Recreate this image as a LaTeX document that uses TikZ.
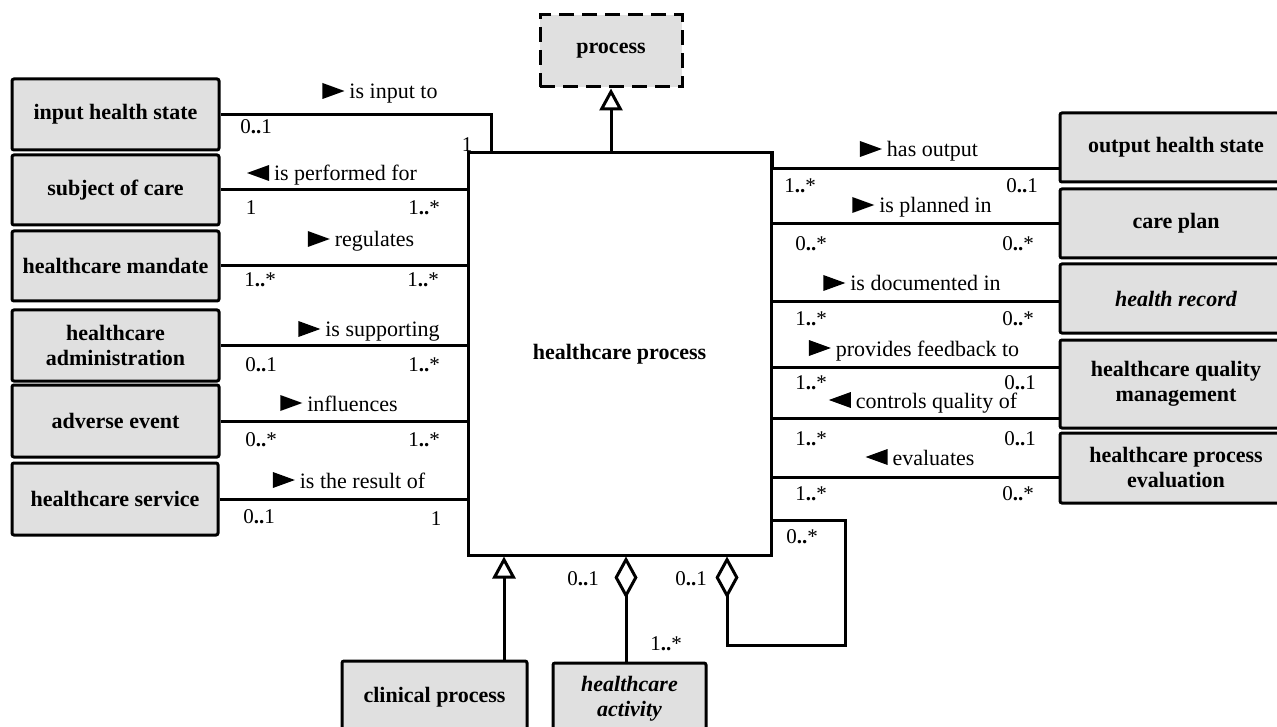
\documentclass[tikz,border=0pt]{standalone}
\usepackage{fontspec}
\setmainfont{Liberation Serif}
\usetikzlibrary{arrows.meta,calc}
\definecolor{boxgray}{RGB}{224,224,224}
% reading-direction triangles for association names
\newcommand\rtri{\tikz[baseline=0pt,x=1pt,y=1pt]\fill (0,0)--(0,16)--(22,8)--cycle;\hspace{5pt}}
\newcommand\ltri{\tikz[baseline=0pt,x=1pt,y=1pt]\fill (0,8)--(22,16)--(22,0)--cycle;\hspace{5pt}}
\newcommand\dd{\textbf{..}}
\begin{document}
\begin{tikzpicture}[x=1pt,y=-1pt,
  font=\fontsize{22}{25}\selectfont,
  cls/.style={draw, line width=3pt, fill=boxgray, rounded corners=2pt,
    font=\fontsize{22}{25}\selectfont\bfseries, align=center, inner sep=0pt},
  abstractcls/.style={cls, font=\fontsize{22}{25}\selectfont\bfseries\itshape},
  assoc/.style={line width=3pt},
  gen/.style={assoc, -{Triangle[open, length=22pt, width=23pt]}},
  agg/.style={assoc, -{Diamond[open, length=42pt, width=23pt]}},
  lbl/.style={anchor=base, inner sep=0pt},
  mul/.style={anchor=base, inner sep=0pt, font=\fontsize{21}{24}\selectfont}]
\clip (0,0) rectangle (1277,727);

% central class and its superclass
\node[draw, line width=3pt, fill=white, minimum width=303pt, minimum height=402pt,
  inner sep=0pt, font=\fontsize{22}{25}\selectfont\bfseries] (hp) at (619.5,354) {healthcare process};
\node[cls, rounded corners=0pt, dash pattern=on 15pt off 8pt, minimum width=142pt, minimum height=72pt] (proc) at (611,51) {process};
\draw[gen] (proc.south |- hp.north) -- (proc.south);

% classes on the left
\node[cls, minimum width=207pt, minimum height=71pt] (ihs) at (115.5,114.5) {input health state};
\node[cls, minimum width=207pt, minimum height=70pt] (soc) at (115.5,190) {subject of care};
\node[cls, minimum width=207pt, minimum height=70pt] (hm)  at (115.5,266) {healthcare mandate};
\node[cls, minimum width=207pt, minimum height=71pt] (ha)  at (115.5,345.5) {healthcare\\administration};
\node[cls, minimum width=207pt, minimum height=72pt] (ae)  at (115.5,421) {adverse event};
\node[cls, minimum width=206pt, minimum height=72pt] (hs)  at (115,499) {healthcare service};

% classes on the right
\node[cls, minimum width=232pt, minimum height=69pt] (ohs) at (1176,147.5) {output health state};
\node[cls, minimum width=232pt, minimum height=69pt] (cpl) at (1176,223.5) {care plan};
\node[abstractcls, minimum width=232pt, minimum height=69pt] (hr) at (1176,298.5) {health record};
\node[cls, minimum width=232pt, minimum height=88pt] (hqm) at (1176,384) {healthcare quality\\management};
\node[cls, minimum width=232pt, minimum height=70pt] (hpe) at (1176,468) {healthcare process\\evaluation};

% classes below
\node[cls, minimum width=185pt, minimum height=72pt] (clp) at (434.5,697) {clinical process};
\node[abstractcls, minimum width=153pt, minimum height=72pt] (hca) at (629.5,699) {healthcare\\activity};

% associations on the left
\draw[assoc] (ihs.east) -| ($(hp.north west)+(25,0)$);
\draw[assoc] (soc.east) -- (soc.east -| hp.west);
\draw[assoc] (hm.east) -- (hm.east -| hp.west);
\draw[assoc] (ha.east) -- (ha.east -| hp.west);
\draw[assoc] (ae.east) -- (ae.east -| hp.west);
\draw[assoc] (hs.east) -- (hs.east -| hp.west);

\node[lbl] (l1) at (380,99) {\rtri is input to};
\node[lbl] (l2) at (332,181) {\ltri is performed for};
\node[lbl] (l3) at (361,247) {\rtri regulates};
\node[lbl] (l4) at (369,337) {\rtri is supporting};
\node[lbl] (l5) at (339,411) {\rtri influences};
\node[lbl] (l6) at (349,488) {\rtri is the result of};

\node[mul] (m1a) at (256,134) {0\dd1};
\node[mul] (m1b) at (467,152) {1};
\node[mul] (m2a) at (251,215) {1};
\node[mul] (m2b) at (424,215) {1\dd*};
\node[mul] (m3a) at (260,287) {1\dd*};
\node[mul] (m3b) at (423,287) {1\dd*};
\node[mul] (m4a) at (261,371) {0\dd1};
\node[mul] (m4b) at (424,371) {1\dd*};
\node[mul] (m5a) at (261,446) {0\dd*};
\node[mul] (m5b) at (424,446) {1\dd*};
\node[mul] (m6a) at (259,523) {0\dd1};
\node[mul] (m6b) at (436,525) {1};

% associations on the right
\draw[assoc] (hp.north east) -- (hp.east |- 0,169) -- (ohs.west |- 0,169);
\draw[assoc] (hp.east |- 0,224) -- (cpl.west |- 0,224);
\draw[assoc] (hp.east |- 0,302) -- (hr.west |- 0,302);
\draw[assoc] (hp.east |- 0,367) -- (hqm.west |- 0,367);
\draw[assoc] (hp.east |- 0,418) -- (hqm.west |- 0,418);
\draw[assoc] (hp.east |- 0,477) -- (hpe.west |- 0,477);

\node[lbl] (r1) at (919,157) {\rtri has output};
\node[lbl] (r2) at (922,213) {\rtri is planned in};
\node[lbl] (r3) at (912,291) {\rtri is documented in};
\node[lbl] (r4) at (914,356) {\rtri provides feedback to};
\node[lbl] (r5) at (923,408) {\ltri controls quality of};
\node[lbl] (r6) at (920,465) {\ltri evaluates};

\node[mul] (n1a) at (800,193) {1\dd*};
\node[mul] (n1b) at (1022,193) {0\dd1};
\node[mul] (n2a) at (811,251) {0\dd*};
\node[mul] (n2b) at (1018,251) {0\dd*};
\node[mul] (n3a) at (811,326) {1\dd*};
\node[mul] (n3b) at (1018,326) {0\dd*};
\node[mul] (n4a) at (811,389) {1\dd*};
\node[mul] (n4b) at (1020,389) {0\dd1};
\node[mul] (n5a) at (811,445) {1\dd*};
\node[mul] (n5b) at (1020,445) {0\dd1};
\node[mul] (n6a) at (811,500) {1\dd*};
\node[mul] (n6b) at (1018,500) {0\dd*};

% specialisation, composition and the recursive aggregation below
\draw[gen] (clp.north -| 504,0) -- (hp.south -| 504,0);
\draw[agg] (hca.north -| 626,0) -- (hp.south -| 626,0);
\coordinate (loop) at (845,645);
\draw[agg] (hp.east |- 0,520) -| (loop) -| (hp.south -| 727,0);

\node[mul] (b1) at (583,585) {0\dd1};
\node[mul] (b2) at (691,585) {0\dd1};
\node[mul] (b3) at (666,650) {1\dd*};
\node[mul] (b4) at (802,543) {0\dd*};
\end{tikzpicture}
\end{document}
